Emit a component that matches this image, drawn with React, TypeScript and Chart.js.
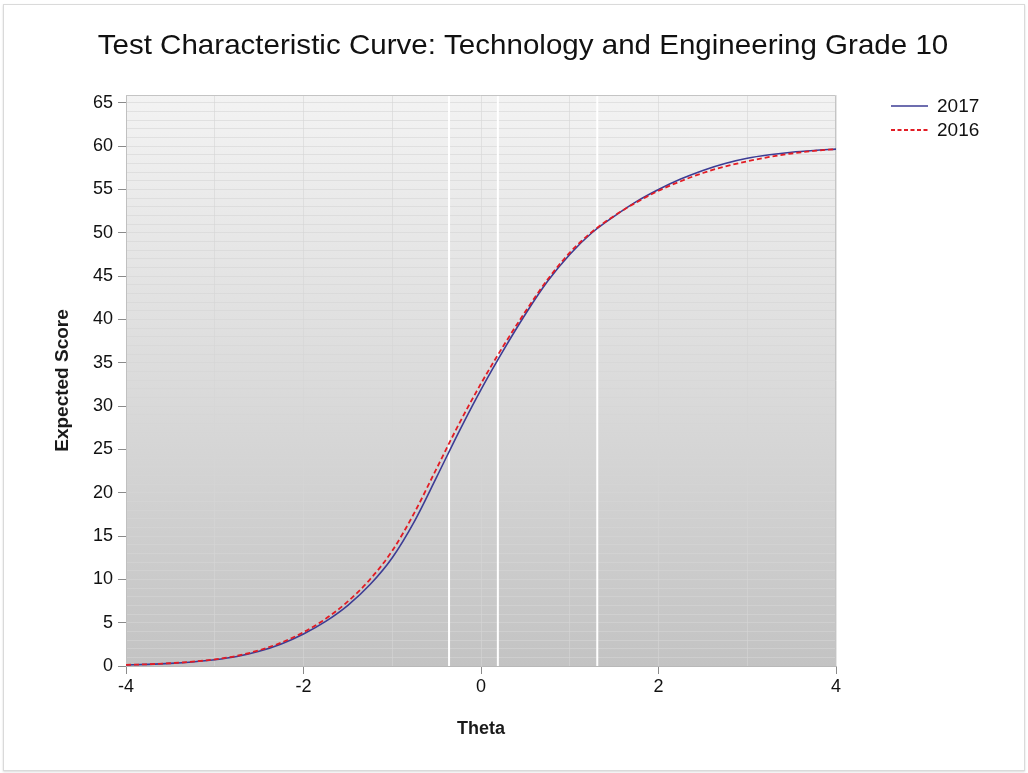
import React, { useEffect, useRef } from "react";
import { Chart, registerables } from "chart.js";

Chart.register(...registerables);

const titleText = "Test Characteristic Curve: Technology and Engineering Grade 10";
const xTitle = "Theta";
const yTitle = "Expected Score";

const theta = [
  -4, -3.75, -3.5, -3.25, -3, -2.75, -2.5, -2.25, -2, -1.75, -1.5, -1.25, -1, -0.75, -0.5, -0.25,
  0, 0.25, 0.5, 0.75, 1, 1.25, 1.5, 1.75, 2, 2.25, 2.5, 2.75, 3, 3.25, 3.5, 3.75, 4,
];

const score2017 = [
  0.12, 0.19, 0.3, 0.47, 0.72, 1.1, 1.7, 2.55, 3.7, 5.15, 7.0, 9.4, 12.5, 16.7, 21.8, 27.0,
  31.9, 36.4, 40.6, 44.4, 47.5, 50.0, 51.9, 53.6, 55.0, 56.2, 57.2, 58.0, 58.6, 59.0, 59.3, 59.5, 59.65,
];

const score2016 = [
  0.13, 0.2, 0.32, 0.5, 0.76, 1.17, 1.82, 2.7, 3.9, 5.45, 7.45, 10.0, 13.3, 17.7, 22.8, 27.9,
  32.6, 36.9, 40.9, 44.6, 47.7, 50.1, 51.95, 53.5, 54.85, 55.95, 56.9, 57.65, 58.25, 58.75, 59.15, 59.45, 59.65,
];

const cutScores = [-0.36, 0.19, 1.31];

const seriesNames = ["2017", "2016"];
const seriesColors = ["#3c3c94", "#e21c24"];

const FONT = "Arial, 'Liberation Sans', Helvetica, sans-serif";

const decorPlugin = {
  id: "decor",
  beforeDraw(chart: any) {
    const { ctx, chartArea: a } = chart;
    ctx.save();
    const g = ctx.createLinearGradient(0, a.top, 0, a.bottom);
    g.addColorStop(0, "#f3f3f3");
    g.addColorStop(1, "#c3c3c3");
    ctx.fillStyle = g;
    ctx.fillRect(a.left, a.top, a.right - a.left, a.bottom - a.top);
    ctx.restore();
  },
  beforeDatasetsDraw(chart: any) {
    const { ctx, chartArea: a, scales } = chart;
    ctx.save();
    ctx.strokeStyle = "#ffffff";
    ctx.lineWidth = 2;
    cutScores.forEach((c) => {
      const x = scales.x.getPixelForValue(c);
      ctx.beginPath();
      ctx.moveTo(x, a.top);
      ctx.lineTo(x, a.bottom);
      ctx.stroke();
    });
    ctx.strokeStyle = "#c4c4c4";
    ctx.lineWidth = 1;
    ctx.beginPath();
    ctx.moveTo(a.left, a.top + 0.5);
    ctx.lineTo(a.right - 0.5, a.top + 0.5);
    ctx.lineTo(a.right - 0.5, a.bottom);
    ctx.stroke();
    ctx.restore();
  },
  afterDraw(chart: any) {
    const { ctx } = chart;
    ctx.save();
    ctx.fillStyle = "#111111";
    ctx.font = `28px ${FONT}`;
    ctx.textAlign = "center";
    ctx.textBaseline = "middle";
    ctx.translate(523, 46);
    ctx.scale(1.055, 1);
    ctx.fillText(titleText, 0, 0);
    ctx.restore();

    // legend
    ctx.save();
    const lx0 = 891;
    const lx1 = 928;
    const ys = [106, 130];
    seriesNames.forEach((name, i) => {
      ctx.strokeStyle = seriesColors[i];
      ctx.lineWidth = i === 0 ? 1.5 : 1.8;
      ctx.setLineDash(i === 0 ? [] : [4, 2.5]);
      ctx.beginPath();
      ctx.moveTo(lx0, ys[i]);
      ctx.lineTo(lx1, ys[i]);
      ctx.stroke();
      ctx.setLineDash([]);
      ctx.fillStyle = "#111111";
      ctx.font = `19px ${FONT}`;
      ctx.textAlign = "left";
      ctx.textBaseline = "middle";
      ctx.fillText(name, 937, ys[i] + 1);
    });
    ctx.restore();
  },
};

const minorGrid = "rgba(214,214,214,0.6)";

export default function App() {
  const ref = useRef<HTMLCanvasElement | null>(null);

  useEffect(() => {
    if (!ref.current) return;
    const chart = new Chart(ref.current, {
      type: "line",
      data: {
        labels: theta,
        datasets: [
          {
            label: seriesNames[0],
            data: theta.map((t, i) => ({ x: t, y: score2017[i] })),
            borderColor: seriesColors[0],
            borderWidth: 1.6,
            pointRadius: 0,
            cubicInterpolationMode: "monotone",
            fill: false,
            order: 2,
          },
          {
            label: seriesNames[1],
            data: theta.map((t, i) => ({ x: t, y: score2016[i] })),
            borderColor: seriesColors[1],
            borderWidth: 1.8,
            borderDash: [5, 3],
            pointRadius: 0,
            cubicInterpolationMode: "monotone",
            fill: false,
            order: 1,
          },
        ],
      },
      options: {
        responsive: false,
        animation: false,
        layout: { padding: { top: 95, right: 192, bottom: 0, left: 0 } },
        plugins: {
          legend: { display: false },
          title: { display: false },
          tooltip: { enabled: false },
        },
        scales: {
          x: {
            type: "linear",
            min: -4,
            max: 4,
            afterFit: (s: any) => {
              s.height = 107;
            },
            ticks: {
              stepSize: 1,
              autoSkip: false,
              maxRotation: 0,
              padding: 2,
              color: "#111111",
              font: { size: 18, family: FONT },
              callback: (v: any) => (Number(v) % 2 === 0 ? String(v) : ""),
            },
            grid: {
              color: minorGrid,
              tickLength: 8,
              tickColor: (c: any) => (c.tick && c.tick.value % 2 === 0 ? "#8a8a8a" : "rgba(0,0,0,0)"),
            },
            border: { color: "#b8b8b8" },
            title: {
              display: true,
              text: xTitle,
              color: "#1a1a1a",
              font: { size: 18, weight: "bold", family: FONT },
              padding: { top: 0, bottom: 33 },
            },
          },
          y: {
            type: "linear",
            min: 0,
            max: 65.9,
            afterFit: (s: any) => {
              s.width = 126;
            },
            ticks: {
              stepSize: 1,
              autoSkip: false,
              includeBounds: false,
              padding: 5,
              color: "#111111",
              font: { size: 18, family: FONT },
              callback: (v: any) => (Number(v) % 5 === 0 ? String(v) : ""),
            },
            grid: {
              color: minorGrid,
              tickLength: 8,
              tickColor: (c: any) => (c.tick && c.tick.value % 5 === 0 ? "#8a8a8a" : "rgba(0,0,0,0)"),
            },
            border: { color: "#c0c0c0" },
            title: {
              display: true,
              text: yTitle,
              color: "#1a1a1a",
              font: { size: 19, weight: "bold", family: FONT },
              padding: { top: 51, bottom: 0 },
            },
          },
        },
      },
      plugins: [decorPlugin],
    } as any);
    return () => chart.destroy();
  }, []);

  return (
    <div style={{ position: "fixed", left: 0, top: 0, width: 1028, height: 773, background: "#ffffff" }}>
      <div
        style={{
          position: "absolute",
          left: 3,
          top: 4,
          width: 1020,
          height: 765,
          border: "1px solid #dadada",
          boxShadow: "0 1px 2px rgba(0,0,0,0.15)",
          background: "#ffffff",
        }}
      />
      <canvas ref={ref} width={1028} height={773} style={{ position: "absolute", left: 0, top: 0, display: "block" }} />
    </div>
  );
}
